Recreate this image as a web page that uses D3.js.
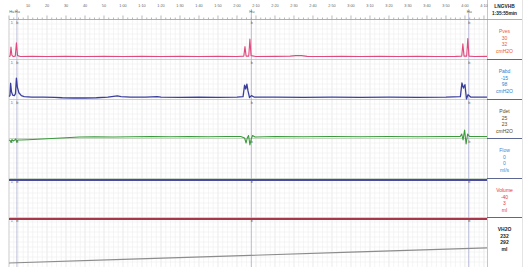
<!DOCTYPE html>
<html>
<head>
<meta charset="utf-8">
<script src="https://cdn.jsdelivr.net/npm/d3@7"></script>
<style>
  body { margin: 0; background: #fff; }
  svg { display: block; font-family: "Liberation Sans", Arial, sans-serif; }
</style>
</head>
<body>
<svg id="graph"></svg>
<script>
// time axis (seconds) and its labels
const timeTicks = [10, 20, 30, 40, 50, 60, 70, 80, 90, 100, 110, 120, 130, 140, 150, 160, 170, 180, 190, 200, 210, 220, 230, 240, 250];
const timeLabels = ["10", "20", "30", "40", "50", "1:00", "1:10", "1:20", "1:30", "1:40", "1:50", "2:00", "2:10", "2:20", "2:30", "2:40", "2:50", "3:00", "3:10", "3:20", "3:30", "3:40", "3:50", "4:00", "4:10"];

// event markers (seconds)
const markers = [0.9, 3.9, 127.3, 241.7];
const markerTop = ["Hu", "Hu", "Hu", "Hu"];

// channels
const channels = ["Pves", "Pabd", "Pdet", "Flow", "Volume", "VH2O"];
const channelVal1 = ["30", "-15", "25", "0", "-40", "232"];
const channelVal2 = ["32", "98", "23", "0", "3", "292"];
const channelUnit = ["cmH2O", "cmH2O", "cmH2O", "ml/s", "ml", "ml"];

// traces [time s, value]
const pves = [[0,28],[0.6,29],[1.05,48],[1.5,31],[2.2,28],[3.3,29],[3.9,57],[4.5,30],[6,28],[12,28.5],[20,28],[30,28.5],[40,28],[50,28.5],[60,28],[70,28.5],[80,28],[90,28.5],[100,28],[110,28.5],[120,28],[123.6,29],[124.2,49],[124.8,29],[126.2,29],[126.8,65],[127.4,30],[130,28],[140,28.5],[148,29],[151,30],[154,30],[157,28.5],[165,28],[175,28.5],[185,28],[195,28.5],[205,28],[215,28.5],[225,28],[235,28.5],[238.3,29],[238.9,55],[239.5,29],[240.9,29],[241.5,66],[242.1,29],[245,28],[251.6,28.5]];
const pabd = [[0,-14],[0.5,-12],[0.85,14],[1.3,-4],[1.9,-11],[2.8,-12],[3.4,-8],[3.9,25],[4.4,6],[5.2,-6],[6.5,-12],[8,-14],[12,-15],[18,-15],[24,-15.5],[28,-16.5],[34,-17],[40,-17],[46,-16.5],[52,-15],[55,-13.5],[57,-12.5],[59,-14],[64,-15],[72,-15],[78,-14],[80,-15],[90,-15.5],[100,-15],[110,-15.5],[120,-15],[123.2,-14],[124,10],[124.6,2],[125.2,12],[125.8,-2],[126.6,-16],[127.6,-12],[129,-15],[140,-15],[155,-15.5],[170,-15],[185,-15.5],[200,-15],[215,-15.5],[230,-15],[237.6,-14],[238.4,14.6],[239.2,4],[240,11],[240.8,-19],[241.6,-10],[243,-15],[251.6,-15]];
const pdet = [[0,18],[0.6,17],[1.1,13],[1.6,19],[2.2,16],[3,18],[3.6,20],[4.1,14],[4.7,18],[6,18],[10,18.5],[15,19.5],[20,20.5],[25,21.5],[30,22.5],[37,24],[45,24.5],[55,24],[65,24.5],[75,25],[85,24.5],[95,25],[105,24.5],[115,25],[122,25],[124,22],[124.8,12],[125.4,22],[126.1,27],[126.8,8],[127.5,20],[128.2,27],[129.5,24],[140,25],[155,24.5],[170,25],[185,24.5],[200,25],[215,24.5],[230,25],[237.5,25],[238.3,30],[239,18],[239.8,38],[240.6,10],[241.4,30],[242.4,25],[251.6,25]];
const flow = [[0,0],[251.6,0]];
const volume = [[0,-40],[251.6,-40]];
const vh2o = [[0,228],[60,243],[127,260],[180,274],[251.6,292]];

const width = 527, height = 267;
const plotL = 9, plotR = 487, colR = 522;
const axisY = 19;
const panelTop = [19, 59, 99, 138, 178, 217];
const panelBot = [59, 99, 138, 178, 217, 267];

const x = d3.scaleLinear().domain([0, 251.6]).range([plotL, plotR]);

const panels = [
  { data: pves, y: d3.scaleLinear().domain([25, 105]).range([58, 20]), color: "#e0497e", text: "#ee5a2a", w: 1.1 },
  { data: pabd, y: d3.scaleLinear().domain([-17, 63]).range([98, 60]), color: "#3b3f9c", text: "#2f7fd0", w: 1.3 },
  { data: pdet, y: d3.scaleLinear().domain([20, 100]).range([139, 99]), color: "#3a9a3c", text: "#5a4a2a", w: 1.1 },
  { data: flow, y: d3.scaleLinear().domain([0, 50]).range([180, 141]), color: "#4b4b9e", text: "#3a8ad8", w: 2 },
  { data: volume, y: d3.scaleLinear().domain([-40, 460]).range([219, 180]), color: "#a8374a", text: "#e03a3a", w: 2 },
  { data: vh2o, y: d3.scaleLinear().domain([215, 385]).range([266, 226]), color: "#8c8c8c", text: "#222", w: 1.1 }
];

const svg = d3.select("#graph").attr("width", width).attr("height", height)
  .attr("viewBox", [0, 0, width, height]);

// grid
const grid = svg.append("g");
grid.selectAll("line.v")
  .data(d3.range(0, 251.6, 2.5))
  .join("line")
  .attr("x1", (d) => x(d)).attr("x2", (d) => x(d))
  .attr("y1", axisY).attr("y2", height)
  .attr("stroke", (d) => (d % 10 === 0 ? "#dcdcdc" : "#eeeeee"))
  .attr("stroke-width", 0.6);
panelTop.forEach((t, i) => {
  const rows = d3.range(t + 5, panelBot[i], 5);
  grid.append("g").selectAll("line")
    .data(rows)
    .join("line")
    .attr("x1", plotL).attr("x2", plotR)
    .attr("y1", (d) => d).attr("y2", (d) => d)
    .attr("stroke", "#eeeeee")
    .attr("stroke-width", 0.6);
});

// panel separators
svg.append("g").selectAll("line")
  .data(panelBot.slice(0, 5))
  .join("line")
  .attr("x1", plotL).attr("x2", plotR)
  .attr("y1", (d) => d + 0.5).attr("y2", (d) => d + 0.5)
  .attr("stroke", "#bcccb6")
  .attr("stroke-width", 0.8);

// left frame
svg.append("line")
  .attr("x1", plotL).attr("x2", plotL).attr("y1", axisY).attr("y2", height)
  .attr("stroke", "#cfcfcf").attr("stroke-width", 0.8);

// markers
const mk = svg.append("g");
mk.selectAll("line")
  .data(markers.filter((d, i) => i > 0))
  .join("line")
  .attr("x1", (d) => x(d) + 0.5).attr("x2", (d) => x(d) + 0.5)
  .attr("y1", 9).attr("y2", height)
  .attr("stroke", "#a9aed0")
  .attr("stroke-width", 0.8);
mk.selectAll("text.top")
  .data(markers)
  .join("text")
  .attr("class", "top")
  .attr("x", (d) => x(d) + 1)
  .attr("y", 13)
  .attr("text-anchor", "middle")
  .attr("font-size", 4)
  .attr("fill", "#555")
  .text((d, i) => markerTop[i]);
panelTop.forEach((t) => {
  mk.append("g").selectAll("text")
    .data(markers)
    .join("text")
    .attr("x", (d) => x(d) + 1)
    .attr("y", t + 5)
    .attr("text-anchor", "middle")
    .attr("font-size", 3.8)
    .attr("fill", "#666")
    .text((d, i) => (i === 0 ? "1" : "b"));
});

// traces
const traces = svg.append("g").attr("fill", "none");
panels.forEach((p) => {
  const line = d3.line().x((d) => x(d[0])).y((d) => p.y(d[1]));
  traces.append("path")
    .attr("d", line(p.data))
    .attr("stroke", p.color)
    .attr("stroke-width", p.w)
    .attr("stroke-linejoin", "round");
});

// right column
const col = svg.append("g");
col.append("rect")
  .attr("x", plotR).attr("y", 0).attr("width", colR - plotR).attr("height", height)
  .attr("fill", "#fff");
col.append("line")
  .attr("x1", plotR + 0.5).attr("x2", plotR + 0.5).attr("y1", 0).attr("y2", height)
  .attr("stroke", "#b8b8b8").attr("stroke-width", 0.8);
col.append("line")
  .attr("x1", colR + 0.5).attr("x2", colR + 0.5).attr("y1", 0).attr("y2", height)
  .attr("stroke", "#dddddd").attr("stroke-width", 0.8);
col.selectAll("line.sep")
  .data(panelBot.slice(0, 5))
  .join("line")
  .attr("class", "sep")
  .attr("x1", plotR).attr("x2", colR)
  .attr("y1", (d) => d + 0.5).attr("y2", (d) => d + 0.5)
  .attr("stroke", "#4a5784").attr("stroke-width", 0.9);
col.append("text")
  .attr("x", (plotR + colR) / 2).attr("y", 8)
  .attr("text-anchor", "middle").attr("font-size", 4.8).attr("font-weight", "bold").attr("fill", "#222")
  .text("LNGVHB");
col.append("text")
  .attr("x", (plotR + colR) / 2).attr("y", 15)
  .attr("text-anchor", "middle").attr("font-size", 4.8).attr("font-weight", "bold").attr("fill", "#222")
  .text("1:35:55min");
channels.forEach((c, i) => {
  const lines = [c, channelVal1[i], channelVal2[i], channelUnit[i]];
  col.append("g").selectAll("text")
    .data(lines)
    .join("text")
    .attr("x", (plotR + colR) / 2)
    .attr("y", (d, j) => panelTop[i] + 14 + j * 6.6)
    .attr("text-anchor", "middle")
    .attr("font-size", 5)
    .attr("font-weight", i === 5 ? "bold" : "normal")
    .attr("fill", panels[i].text)
    .text((d) => d);
});

// top time axis
const axis = svg.append("g");
axis.append("line")
  .attr("x1", plotL).attr("x2", colR).attr("y1", axisY + 0.5).attr("y2", axisY + 0.5)
  .attr("stroke", "#9a9a9a").attr("stroke-width", 0.8);
axis.selectAll("line.tk")
  .data(d3.range(0, 251.6, 2.5))
  .join("line")
  .attr("class", "tk")
  .attr("x1", (d) => x(d)).attr("x2", (d) => x(d))
  .attr("y1", (d) => (d % 10 === 0 ? 15.5 : 17.5)).attr("y2", axisY)
  .attr("stroke", "#888").attr("stroke-width", 0.6);
axis.selectAll("text")
  .data(timeTicks)
  .join("text")
  .attr("x", (d) => x(d))
  .attr("y", 7)
  .attr("text-anchor", "middle")
  .attr("font-size", 3.8)
  .attr("fill", "#666")
  .text((d, i) => timeLabels[i]);
</script>
</body>
</html>
